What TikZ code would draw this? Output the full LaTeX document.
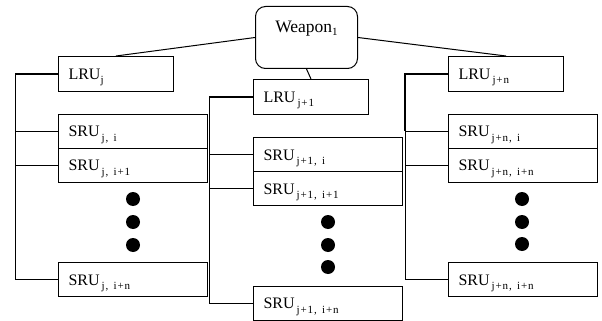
\documentclass[tikz,border=0pt]{standalone}
\usepackage{fontspec}
\setmainfont{Liberation Serif}
\newfontfamily\subf[LetterSpace=8]{Liberation Serif}
\newcommand{\mysub}[1]{\raisebox{-4.5pt}{\subf\fontsize{11}{11}\selectfont #1}}
\newcommand{\mysubw}[1]{\raisebox{-3pt}{\fontsize{11}{11}\selectfont #1}}
\begin{document}
\begin{tikzpicture}[x=1pt,y=-1pt,
  boxbase/.style={draw, line width=1pt, anchor=north west, inner xsep=10pt, inner ysep=0pt,
    text height=22.5pt, align=left, font=\fontsize{16}{16}\selectfont},
  lrubox/.style={boxbase, text width=95pt, text depth=12pt},
  srubox/.style={boxbase, text width=129pt, text depth=11.5pt},
  wbox/.style={draw, line width=1pt, rounded corners=10pt, anchor=north west, inner sep=0pt,
    minimum width=102pt, text height=25.7pt, text depth=36.3pt, font=\fontsize{17.5}{18}\selectfont},
  dot/.style={circle, fill=black, inner sep=0pt, minimum size=14pt},
  conn/.style={line width=1pt},
  thickconn/.style={line width=1.9pt}]
\useasboundingbox (0,0) rectangle (602,321);

% top
\node[wbox] (W) at (255,6) {Weapon\mysubw{1}\hspace{5pt}};

% left column
\node[lrubox] (LRUj) at (58,56) {LRU\mysub{j}};
\node[srubox] (Sa1) at (58,113.5) {SRU\hspace{2pt}\mysub{j, i}};
\node[srubox] (Sa2) at (58,147.5) {SRU\hspace{2pt}\mysub{j, i+1}};
\node[srubox] (Sa3) at (58,262) {SRU\hspace{2pt}\mysub{j, i+n}};
\node[dot] (da1) at (133,199) {};
\node[dot] (da2) at (133,222) {};
\node[dot] (da3) at (133,245) {};

% middle column
\node[lrubox] (LRUm) at (253,79) {LRU\hspace{2pt}\mysub{j+1}};
\node[srubox] (Sb1) at (253,137) {SRU\hspace{2pt}\mysub{j+1, i}};
\node[srubox] (Sb2) at (253,171) {SRU\hspace{2pt}\mysub{j+1, i+1}};
\node[srubox] (Sb3) at (253,285.5) {SRU\hspace{2pt}\mysub{j+1, i+n}};
\node[dot] (db1) at (328,222) {};
\node[dot] (db2) at (328,245) {};
\node[dot] (db3) at (328,267) {};

% right column
\node[lrubox] (LRUn) at (448,56) {LRU\hspace{2pt}\mysub{j+n}};
\node[srubox] (Sc1) at (448,113.5) {SRU\hspace{2pt}\mysub{j+n, i}};
\node[srubox] (Sc2) at (448,147.5) {SRU\hspace{2pt}\mysub{j+n, i+n}};
\node[srubox] (Sc3) at (448,262) {SRU\hspace{2pt}\mysub{j+n, i+n}};
\node[dot] (dc1) at (522,199) {};
\node[dot] (dc2) at (522,222) {};
\node[dot] (dc3) at (522,244) {};

% buses
\coordinate (busA) at (15.5,0);
\coordinate (busB) at (209.5,0);
\coordinate (busC) at (405,0);

% weapon links
\draw[conn] (W.west) -- (LRUj.north);
\draw[conn] (W.east) -- (LRUn.north);
\draw[conn] (W.south) -- (LRUm.north);

% left bus
\draw[thickconn] (LRUj.west) -| (Sa1.west -| busA);
\draw[conn] (Sa1.west -| busA) |- (Sa3.west);
\draw[conn] (Sa1.west) -- (Sa1.west -| busA);
\draw[conn] (Sa2.west) -- (Sa2.west -| busA);

% middle bus
\draw[thickconn] (LRUm.west) -| (Sb1.west -| busB);
\draw[conn] (Sb1.west -| busB) |- (Sb3.west);
\draw[conn] (Sb1.west) -- (Sb1.west -| busB);
\draw[conn] (Sb2.west) -- (Sb2.west -| busB);

% right bus
\draw[thickconn] (LRUn.west) -| (Sc1.west -| busC);
\draw[conn] (Sc1.west -| busC) |- (Sc3.west);
\draw[conn] (Sc1.west) -- (Sc1.west -| busC);
\draw[conn] (Sc2.west) -- (Sc2.west -| busC);
\end{tikzpicture}
\end{document}
